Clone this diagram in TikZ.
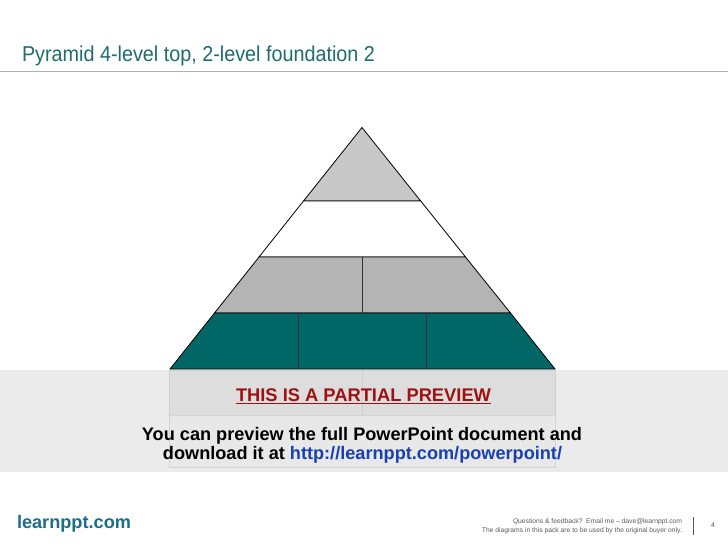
\documentclass[tikz,border=0pt]{standalone}
\usepackage{fontspec}
\setmainfont{Liberation Sans}
\usepackage{graphicx}
\definecolor{titleteal}{RGB}{30,108,110}
\definecolor{rulegray}{RGB}{176,176,176}
\definecolor{lvltop}{RGB}{200,200,200}
\definecolor{lvlmid}{RGB}{180,180,180}
\definecolor{lvlteal}{RGB}{0,102,102}
\definecolor{bandgray}{RGB}{235,235,235}
\definecolor{fndup}{RGB}{221,221,221}
\definecolor{fndupline}{RGB}{206,206,206}
\definecolor{fndlow}{RGB}{232,232,232}
\definecolor{fndlowline}{RGB}{212,212,212}
\definecolor{previewred}{RGB}{160,16,16}
\definecolor{linkblue}{RGB}{26,64,176}
\definecolor{footteal}{RGB}{28,108,138}
\definecolor{footgray}{RGB}{90,90,90}
\tikzset{
  level/.style={draw=black, line width=0.8pt, line join=miter},
  divider/.style={draw=black!80, line width=0.8pt},
  txt/.style={inner sep=0pt, outer sep=0pt},
}
\begin{document}
\begin{tikzpicture}[x=1pt,y=-1pt]
\useasboundingbox (0,0) rectangle (728,546);
\fill[white] (0,0) rectangle (728,546);

% title
\node[txt, anchor=base west, text=titleteal] (title) at (22,61)
  {\resizebox{353pt}{15.6pt}{\fontsize{20}{20}\selectfont Pyramid 4-level top, 2-level foundation 2}};
\coordinate (ruleL) at (0,71.5);
\coordinate (ruleR) at (728,71.5);
\draw[rulegray, line width=1.2pt] (ruleL) -- (ruleR);

% overlay band and foundation
\fill[bandgray] (0,370) rectangle (728,472);
\filldraw[fill=fndup, draw=fndupline, line width=0.8pt] (169.5,370) rectangle (555,415);
\coordinate (fdT) at (362,370);
\coordinate (fdB) at (362,415);
\draw[fndupline, line width=0.8pt] (fdT) -- (fdB);
\filldraw[fill=fndlow, draw=fndlowline, line width=0.8pt] (169.5,415) rectangle (555,467);

% pyramid
\coordinate (apex) at (362,127.5);
\coordinate (a1L) at (303.5,201);
\coordinate (a1R) at (420.7,201);
\coordinate (a2L) at (259,257);
\coordinate (a2R) at (465.5,257);
\coordinate (a3L) at (214.5,313);
\coordinate (a3R) at (510.5,313);
\coordinate (a4L) at (170,369);
\coordinate (a4R) at (555,369);

\filldraw[level, fill=lvltop] (apex) -- (a1R) -- (a1L) -- cycle;
\filldraw[level, fill=white] (a1L) -- (a1R) -- (a2R) -- (a2L) -- cycle;
\filldraw[level, fill=lvlmid] (a2L) -- (a2R) -- (a3R) -- (a3L) -- cycle;
\filldraw[level, fill=lvlteal] (a3L) -- (a3R) -- (a4R) -- (a4L) -- cycle;

\coordinate (d3T) at (362.7,257);
\coordinate (d3B) at (362.7,313);
\draw[divider] (d3T) -- (d3B);
\coordinate (d4aT) at (298.3,313);
\coordinate (d4aB) at (298.3,369);
\coordinate (d4bT) at (426,313);
\coordinate (d4bB) at (426,369);
\draw[divider] (d4aT) -- (d4aB);
\draw[divider] (d4bT) -- (d4bB);

% preview texts
\node[txt, anchor=base, text=previewred] (prev) at (363.5,401.5)
  {\resizebox{255pt}{!}{\bfseries THIS IS A PARTIAL PREVIEW}};
\draw[previewred, line width=1.3pt] ([yshift=-2.2pt]prev.base west) -- ([yshift=-2.2pt]prev.base east);
\node[txt, anchor=base] (line1) at (362,440)
  {\resizebox{440pt}{!}{\bfseries You can preview the full PowerPoint document and}};
\node[txt, anchor=base] (line2) at (362.5,459.5)
  {\resizebox{399pt}{!}{\bfseries download it at \textcolor{linkblue}{http://learnppt.com/powerpoint/}}};

% footer
\node[txt, anchor=base west, text=footteal] (brand) at (17,528)
  {\resizebox{114pt}{!}{\bfseries learnppt.com}};
\node[txt, anchor=base east, text=footgray] (fq) at (682,523)
  {\resizebox{169pt}{!}{\fontsize{7}{7}\selectfont Questions \& feedback?\ \ Email me -- dave@learnppt.com}};
\node[txt, anchor=base east, text=footgray] (fd) at (682,532)
  {\resizebox{200pt}{!}{\fontsize{7}{7}\selectfont The diagrams in this pack are to be used by the original buyer only.}};
\coordinate (barT) at (693,517);
\coordinate (barB) at (693,535);
\draw[footgray, line width=0.8pt] (barT) -- (barB);
\node[txt, anchor=base, text=footgray] (pg) at (713,527) {\fontsize{7}{7}\selectfont 4};
\end{tikzpicture}
\end{document}
